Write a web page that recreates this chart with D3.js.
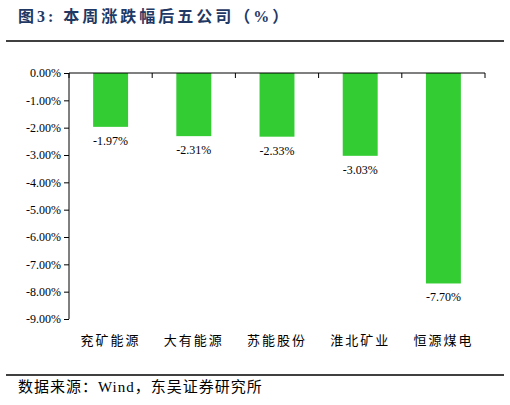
<!DOCTYPE html><html><head><meta charset="utf-8">
<script src="https://cdn.jsdelivr.net/npm/d3@7"></script>
<style>body{margin:0;background:#fff}</style></head><body>
<svg id="c" width="510" height="405"></svg>
<script>
const categories=["兖矿能源","大有能源","苏能股份","淮北矿业","恒源煤电"];
const values=[-1.97,-2.31,-2.33,-3.03,-7.70];
const yTicks=[0,-1,-2,-3,-4,-5,-6,-7,-8,-9];
const svg=d3.select("#c");
const serif="'Liberation Serif','Times New Roman',serif";
const cjk="'Noto Sans CJK SC',sans-serif";
svg.append("text").attr("x",18).attr("y",22).attr("font-family",serif+","+cjk).attr("font-weight","bold").attr("font-size",16).attr("letter-spacing",3).attr("fill","#1f3864").text("图3:  本周涨跌幅后五公司（%）");
svg.append("line").attr("x1",6).attr("x2",504).attr("y1",41).attr("y2",41).attr("stroke","#000").attr("stroke-width",1.5);
svg.append("line").attr("x1",6).attr("x2",504).attr("y1",375).attr("y2",375).attr("stroke","#000").attr("stroke-width",1.5);
svg.append("text").attr("x",18).attr("y",392).attr("font-family",serif+","+cjk).attr("font-size",15).attr("letter-spacing",1).attr("fill","#000").text("数据来源：Wind，东吴证券研究所");
const L=69,R=485,T=73,B=319;
const x=d3.scaleBand().domain(categories).range([L,R]).paddingInner(0.58).paddingOuter(0.29);
const y=d3.scaleLinear().domain([0,-9]).range([T,B]);
const g=svg.append("g");
g.selectAll("rect").data(values).join("rect").attr("x",(d,i)=>x(categories[i])).attr("width",x.bandwidth()).attr("y",y(0)).attr("height",d=>y(d)-y(0)).attr("fill","#33cc33");
g.selectAll(".vl").data(values).join("text").attr("x",(d,i)=>x(categories[i])+x.bandwidth()/2).attr("y",d=>y(d)+18).attr("text-anchor","middle").attr("font-family",serif).attr("font-size",12).text(d=>d.toFixed(2)+"%");
const ya=g.append("g").attr("transform",`translate(${L},0)`).call(d3.axisLeft(y).tickValues(yTicks).tickSize(5).tickFormat(d=>d.toFixed(2)+"%"));
ya.selectAll("text").attr("font-family",serif).attr("font-size",12).attr("fill","#000");
ya.select(".domain").attr("d",`M0,${T}V${B}`);
const bounds=d3.range(6).map(i=>L+i*(R-L)/5);
g.append("line").attr("x1",L).attr("x2",R).attr("y1",T).attr("y2",T).attr("stroke","#000");
g.selectAll(".xt").data(bounds).join("line").attr("x1",d=>d).attr("x2",d=>d).attr("y1",T).attr("y2",T+5).attr("stroke","#000");
g.selectAll(".cl").data(categories).join("text").attr("x",d=>x(d)+x.bandwidth()/2).attr("y",345).attr("text-anchor","middle").attr("font-family",cjk).attr("font-size",13).attr("letter-spacing",2).text(d=>d);
</script></body></html>
